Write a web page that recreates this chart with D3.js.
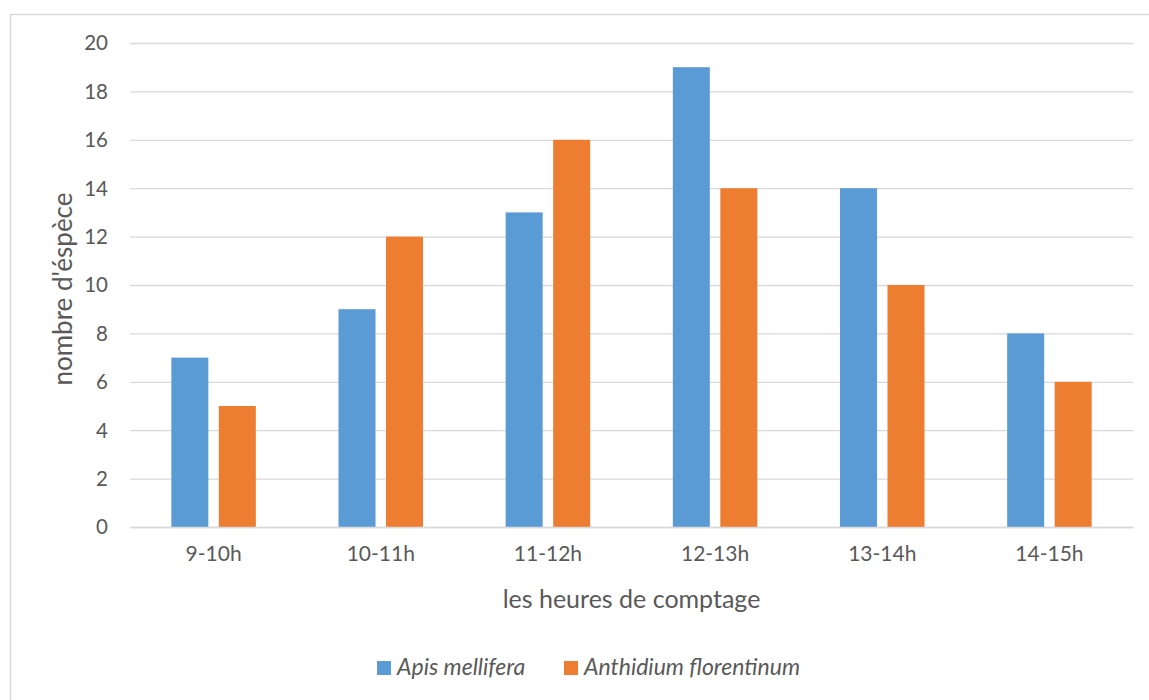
<!DOCTYPE html>
<html>
<head>
<meta charset="utf-8">
<script src="https://cdn.jsdelivr.net/npm/d3@7"></script>
<style>
body { margin: 0; background: #fff; }
text { font-family: Lato, "Open Sans", sans-serif; fill: #595959; }
</style>
</head>
<body>
<div id="chart"></div>
<script>
// data
var categories = ["9-10h", "10-11h", "11-12h", "12-13h", "13-14h", "14-15h"];
var seriesNames = ["Apis mellifera", "Anthidium florentinum"];
var apis = [7, 9, 13, 19, 14, 8];
var anthidium = [5, 12, 16, 14, 10, 6];
var yTicks = [0, 2, 4, 6, 8, 10, 12, 14, 16, 18, 20];
var colours = ["#5B9BD5", "#ED7D31"];

var width = 1149, height = 700;
var plotL = 130, plotR = 1133, plotT = 43, plotB = 527;

var svg = d3.select("#chart").append("svg")
	.attr("width", width)
	.attr("height", height);

// chart border
svg.append("rect")
	.attr("x", 10.5).attr("y", 14.5)
	.attr("width", 1160).attr("height", 700)
	.style("fill", "none")
	.style("stroke", "#d9d9d9")
	.style("stroke-width", 1.5);

var x = d3.scaleBand().domain(categories).range([plotL, plotR]);
var y = d3.scaleLinear().domain([0, 20]).range([plotB, plotT]);

// gridlines + y labels
var yAxis = d3.axisLeft(y).tickValues(yTicks).tickSize(-(plotR - plotL)).tickPadding(22);
var gy = svg.append("g").attr("transform", "translate(" + plotL + ",0)").call(yAxis);
gy.select(".domain").remove();
gy.selectAll("line").style("stroke", "#d9d9d9").style("stroke-width", 1.3);
gy.selectAll("text").style("font-size", "20.5px").style("fill", "#595959").attr("dy", "0.34em");

var barW = 37, gap = 10.5;
var rows = categories.map(function (c, i) { return { cat: c, vals: [apis[i], anthidium[i]] }; });

var groups = svg.selectAll(".grp")
	.data(rows)
	.enter()
	.append("g")
	.attr("class", "grp");

groups.selectAll("rect")
	.data(function (d) { return d.vals.map(function (v, k) { return { cat: d.cat, v: v, k: k }; }); })
	.enter()
	.append("rect")
	.attr("x", function (d) {
		var c = x(d.cat) + x.bandwidth() / 2;
		return d.k == 0 ? c - gap / 2 - barW : c + gap / 2;
	})
	.attr("y", function (d) { return y(d.v); })
	.attr("width", barW)
	.attr("height", function (d) { return plotB - y(d.v); })
	.style("fill", function (d) { return colours[d.k]; });

// x axis labels
var xAxis = d3.axisBottom(x).tickSize(0).tickPadding(19);
var gx = svg.append("g").attr("transform", "translate(0," + plotB + ")").call(xAxis);
gx.select(".domain").style("stroke", "#d9d9d9").style("stroke-width", 1.3);
gx.selectAll("text").style("font-size", "21px").style("fill", "#595959");

// axis titles
svg.append("text")
	.attr("x", (plotL + plotR) / 2).attr("y", 608)
	.attr("text-anchor", "middle")
	.style("font-size", "25px")
	.text("les heures de comptage");

svg.append("text")
	.attr("transform", "translate(72,289) rotate(-90)")
	.attr("text-anchor", "middle")
	.style("font-size", "26px")
	.text("nombre d'éspèce");

// legend
var legX = [377, 564];
var leg = svg.selectAll(".leg")
	.data(seriesNames)
	.enter()
	.append("g")
	.attr("transform", function (d, i) { return "translate(" + legX[i] + ",661)"; });
leg.append("rect").attr("width", 14).attr("height", 14).style("fill", function (d, i) { return colours[i]; });
leg.append("text")
	.attr("x", 20).attr("y", 14)
	.style("font-size", "23px")
	.style("font-style", "italic")
	.text(function (d) { return d; });
</script>
</body>
</html>
